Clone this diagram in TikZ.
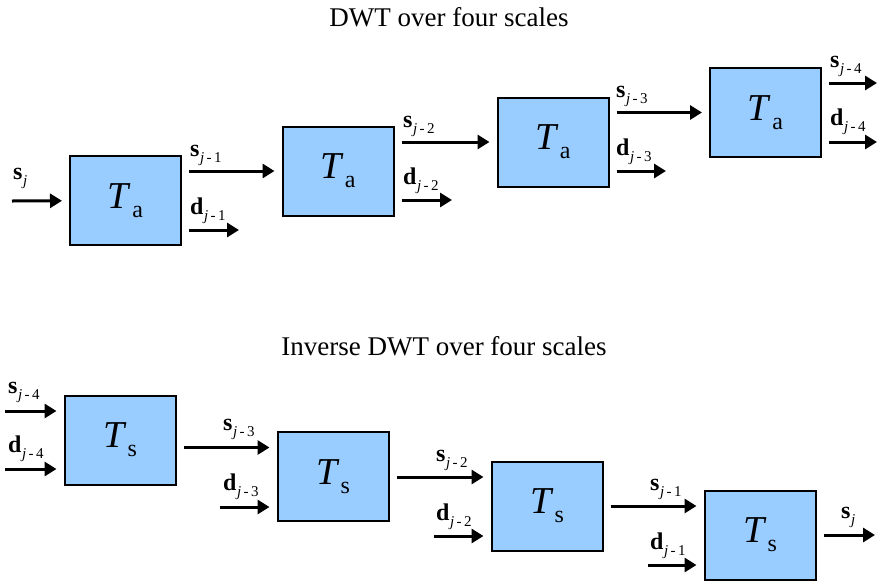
\documentclass[tikz,border=0pt]{standalone}
\usepackage{fontspec}
\setmainfont{Liberation Serif}
\usetikzlibrary{arrows.meta}

\newcommand{\sig}[2]{\textbf{#1}\kern0.5pt\raisebox{-6pt}{\fontsize{15}{15}\selectfont\textit{j}#2}}
\newcommand{\tb}[1]{\fontsize{38}{38}\selectfont\textit{T}\kern1pt\raisebox{-9pt}{\fontsize{24}{24}\selectfont #1}}

\begin{document}
\begin{tikzpicture}[x=1pt,y=-1pt,
  >={Triangle[length=12pt,width=14pt]},
  blk/.style={draw,line width=2pt,fill=boxblue,minimum width=111pt,minimum height=89pt,inner sep=0pt},
  sig/.style={->,line width=3pt},
  lbl/.style={anchor=base west,inner sep=0pt,font=\fontsize{24}{28}\selectfont},
  ttl/.style={anchor=base,inner sep=0pt,font=\fontsize{27}{30}\selectfont}]
\definecolor{boxblue}{RGB}{153,204,255}
\useasboundingbox (0,0) rectangle (877,581);

\node[ttl](t1) at (449,26) {DWT over four scales};
\node[ttl](t2) at (444,355) {Inverse DWT over four scales};

\node[blk](ta1) at (125.5,200.5) {\tb{a}};
\node[blk](ta2) at (338,171) {\tb{a}};
\node[blk](ta3) at (553,142) {\tb{a}};
\node[blk](ta4) at (765.5,112.5) {\tb{a}};

\node[blk](ts1) at (120,440) {\tb{s}};
\node[blk](ts2) at (333,476.5) {\tb{s}};
\node[blk](ts3) at (547,506) {\tb{s}};
\node[blk](ts4) at (760,535) {\tb{s}};

\coordinate (in1) at (12,201);
\coordinate (da1) at (239,230);
\coordinate (da2) at (452,200);
\coordinate (da3) at (666,171);
\coordinate (sa4) at (877,83);
\coordinate (da4) at (877,142);

\draw[sig,shorten >=7pt](in1)--(ta1);
\draw[sig,shorten <=7pt,shorten >=7pt](ta1.east |- ta2)--(ta2);
\draw[sig,shorten <=7pt,shorten >=7pt](ta2.east |- ta3)--(ta3);
\draw[sig,shorten <=7pt,shorten >=7pt](ta3.east |- ta4)--(ta4);
\draw[sig,shorten <=7pt](ta1.east |- da1)--(da1);
\draw[sig,shorten <=7pt](ta2.east |- da2)--(da2);
\draw[sig,shorten <=7pt](ta3.east |- da3)--(da3);
\draw[sig,shorten <=7pt](ta4.east |- sa4)--(sa4);
\draw[sig,shorten <=7pt](ta4.east |- da4)--(da4);

\node[lbl](l1) at (13,179) {\sig{s}{}};
\node[lbl](l2) at (190,156) {\sig{s}{\,-\,1}};
\node[lbl](l3) at (190,214) {\sig{d}{\,-\,1}};
\node[lbl](l4) at (403,127) {\sig{s}{\,-\,2}};
\node[lbl](l5) at (403,184) {\sig{d}{\,-\,2}};
\node[lbl](l6) at (616,97) {\sig{s}{\,-\,3}};
\node[lbl](l7) at (616,155) {\sig{d}{\,-\,3}};
\node[lbl](l8) at (830,67) {\sig{s}{\,-\,4}};
\node[lbl](l9) at (830,125) {\sig{d}{\,-\,4}};

\coordinate (si1) at (5,411);
\coordinate (di1) at (5,469);
\coordinate (su2) at ([yshift=29pt]ts2.west);
\coordinate (su3) at ([yshift=29pt]ts3.west);
\coordinate (su4) at ([yshift=29pt]ts4.west);
\coordinate (di2) at (220,507);
\coordinate (di3) at (434,536);
\coordinate (di4) at (648,565);
\coordinate (so4) at (875,535);

\draw[sig,shorten >=7pt](si1)--(ts1.west |- si1);
\draw[sig,shorten >=7pt](di1)--(ts1.west |- di1);
\draw[sig,shorten <=7pt,shorten >=7pt](ts1.east |- su2)--(su2);
\draw[sig,shorten <=7pt,shorten >=7pt](ts2.east |- su3)--(su3);
\draw[sig,shorten <=7pt,shorten >=7pt](ts3.east |- su4)--(su4);
\draw[sig,shorten >=7pt](di2)--(ts2.west |- di2);
\draw[sig,shorten >=7pt](di3)--(ts3.west |- di3);
\draw[sig,shorten >=7pt](di4)--(ts4.west |- di4);
\draw[sig,shorten <=7pt](ts4)--(so4);

\node[lbl](m1) at (8,393) {\sig{s}{\,-\,4}};
\node[lbl](m2) at (8,452) {\sig{d}{\,-\,4}};
\node[lbl](m3) at (223,430) {\sig{s}{\,-\,3}};
\node[lbl](m4) at (223,490) {\sig{d}{\,-\,3}};
\node[lbl](m5) at (436,461) {\sig{s}{\,-\,2}};
\node[lbl](m6) at (436,520) {\sig{d}{\,-\,2}};
\node[lbl](m7) at (650,490) {\sig{s}{\,-\,1}};
\node[lbl](m8) at (650,549) {\sig{d}{\,-\,1}};
\node[lbl](m9) at (841,518) {\sig{s}{}};
\end{tikzpicture}
\end{document}
